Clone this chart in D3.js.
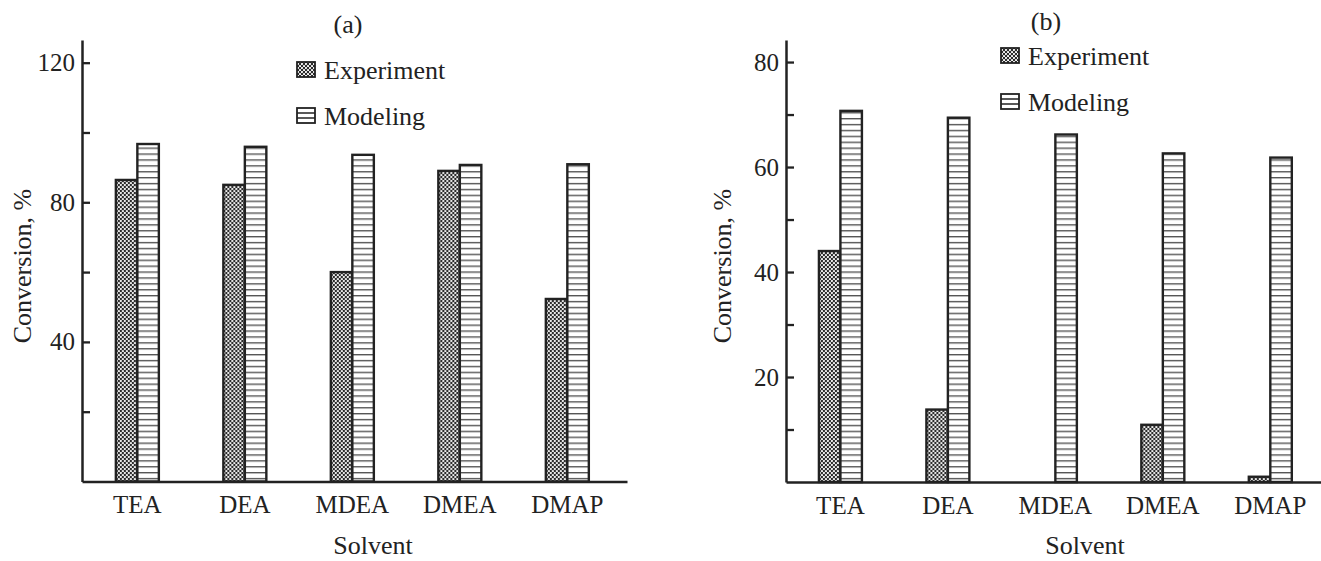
<!DOCTYPE html>
<html>
<head>
<meta charset="utf-8">
<script src="https://cdn.jsdelivr.net/npm/d3@7"></script>
<style>
  html, body { margin: 0; padding: 0; background: #fff; }
  svg { display: block; }
  text { font-family: "Liberation Serif", "Times New Roman", serif; fill: #222; }
</style>
</head>
<body>
<svg id="chart" width="1321" height="561"></svg>
<script>
// ---- Data ----
const categories = ["TEA", "DEA", "MDEA", "DMEA", "DMAP"];
const seriesNames = ["Experiment", "Modeling"];
// Panel (a)
const experimentA = [86.4, 85.0, 60.0, 89.0, 52.3];
const modelingA   = [96.7, 95.9, 93.6, 90.7, 90.9];
// Panel (b)
const experimentB = [44.0, 13.8, 0.0, 10.9, 1.0];
const modelingB   = [70.7, 69.4, 66.2, 62.6, 61.8];
// Tick values and labels
const yTicksA  = [20, 40, 60, 80, 100, 120];
const yLabelsA = [40, 80, 120];
const yTicksB  = [10, 20, 30, 40, 50, 60, 70, 80];
const yLabelsB = [20, 40, 60, 80];
const panelTitles = ["(a)", "(b)"];
const yTitle = "Conversion, %";
const xTitle = "Solvent";

const svg = d3.select("#chart");
const ink = "#222";

// ---- Patterns ----
const defs = svg.append("defs");
const cross = defs.append("pattern").attr("id", "cross")
  .attr("patternUnits", "userSpaceOnUse").attr("width", 4).attr("height", 4);
cross.append("rect").attr("width", 4).attr("height", 4).attr("fill", "#2b2b2b");
cross.append("circle").attr("cx", 1).attr("cy", 1).attr("r", 1.05).attr("fill", "#fff");
cross.append("circle").attr("cx", 3).attr("cy", 3).attr("r", 1.05).attr("fill", "#fff");

const hlines = defs.append("pattern").attr("id", "hlines")
  .attr("patternUnits", "userSpaceOnUse").attr("width", 8).attr("height", 5.9);
hlines.append("rect").attr("width", 8).attr("height", 5.9).attr("fill", "#fff");
hlines.append("rect").attr("y", 0).attr("width", 8).attr("height", 1.4).attr("fill", "#555");

const fills = ["url(#cross)", "url(#hlines)"];

function panel(cfg) {
  const g = svg.append("g");
  const x = d3.scaleBand().domain(categories)
    .range([cfg.x0, cfg.x1]).paddingInner(0.6).paddingOuter(cfg.po).align(cfg.align);
  const y = d3.scaleLinear().domain([0, cfg.ymax]).range([cfg.yBase, 40]);
  const sub = d3.scaleBand().domain(seriesNames).range([0, x.bandwidth()]);

  // bars
  const rows = categories.map((c, i) => ({ c, vals: [cfg.exp[i], cfg.mod[i]] }));
  const grp = g.append("g").selectAll("g").data(rows).join("g")
    .attr("transform", d => `translate(${x(d.c)},0)`);
  grp.selectAll("rect").data(d => d.vals.map((v, k) => ({ v, k })).filter(e => e.v > 0))
    .join("rect")
    .attr("x", e => sub(seriesNames[e.k]))
    .attr("width", sub.bandwidth())
    .attr("y", e => y(e.v))
    .attr("height", e => y(0) - y(e.v))
    .attr("fill", e => fills[e.k])
    .attr("stroke", ink).attr("stroke-width", 2.4);

  // y axis
  const ya = d3.axisLeft(y).tickValues(cfg.ticks)
    .tickFormat(d => cfg.labels.includes(d) ? d : "")
    .tickSizeInner(-8).tickSizeOuter(0).tickPadding(7);
  const yg = g.append("g").attr("transform", `translate(${cfg.x0},0)`).call(ya);
  yg.select(".domain").attr("stroke", ink).attr("stroke-width", 2.5);
  yg.selectAll(".tick line").attr("stroke", ink).attr("stroke-width", 2.3);
  yg.selectAll(".tick text").attr("font-size", 25).attr("fill", ink)
    .attr("font-family", "Liberation Serif");

  // x axis
  const xa = d3.axisBottom(x).tickSize(0).tickPadding(14);
  const xg = g.append("g").attr("transform", `translate(0,${y(0)})`).call(xa);
  xg.select(".domain").attr("stroke", ink).attr("stroke-width", 2.5);
  xg.selectAll(".tick text").attr("font-size", 25).attr("fill", ink)
    .attr("font-family", "Liberation Serif");

  // titles
  g.append("text").attr("x", cfg.titleX).attr("y", cfg.titleY)
    .attr("text-anchor", "middle").attr("font-size", 26).text(cfg.title);
  g.append("text").attr("transform", `translate(${cfg.yTitleX},266) rotate(-90)`)
    .attr("text-anchor", "middle").attr("font-size", 26).text(yTitle);
  g.append("text").attr("x", cfg.xTitleX).attr("y", 554)
    .attr("text-anchor", "middle").attr("font-size", 26).text(xTitle);

  // legend
  seriesNames.forEach((s, k) => {
    const ly = cfg.legY[k];
    const lg = g.append("g").attr("transform", `translate(${cfg.legX},${ly})`);
    if (k === 0) {
      lg.append("rect").attr("x", 0).attr("y", -17).attr("width", 18).attr("height", 15)
        .attr("fill", fills[0]).attr("stroke", ink).attr("stroke-width", 1.8);
    } else {
      lg.append("rect").attr("x", 0).attr("y", -17).attr("width", 18).attr("height", 15)
        .attr("fill", "#fff").attr("stroke", ink).attr("stroke-width", 1.8);
      [-12, -7].forEach(yy => lg.append("line").attr("x1", 0).attr("x2", 18)
        .attr("y1", yy).attr("y2", yy).attr("stroke", ink).attr("stroke-width", 1.5));
    }
    lg.append("text").attr("x", 27).attr("y", 0).attr("font-size", 26).text(s);
  });
}

panel({ x0: 82, x1: 627, po: 0.335, align: 0.47, ymax: 126.5, yBase: 481.5,
  exp: experimentA, mod: modelingA, ticks: yTicksA, labels: yLabelsA,
  title: panelTitles[0], titleX: 348, titleY: 33, yTitleX: 31, xTitleX: 373,
  legX: 297, legY: [79, 125] });

panel({ x0: 786, x1: 1321, po: 0.289, align: 0.53, ymax: 84.2, yBase: 482,
  exp: experimentB, mod: modelingB, ticks: yTicksB, labels: yLabelsB,
  title: panelTitles[1], titleX: 1046, titleY: 30, yTitleX: 731, xTitleX: 1085,
  legX: 1001, legY: [65, 111] });
</script>
</body>
</html>
